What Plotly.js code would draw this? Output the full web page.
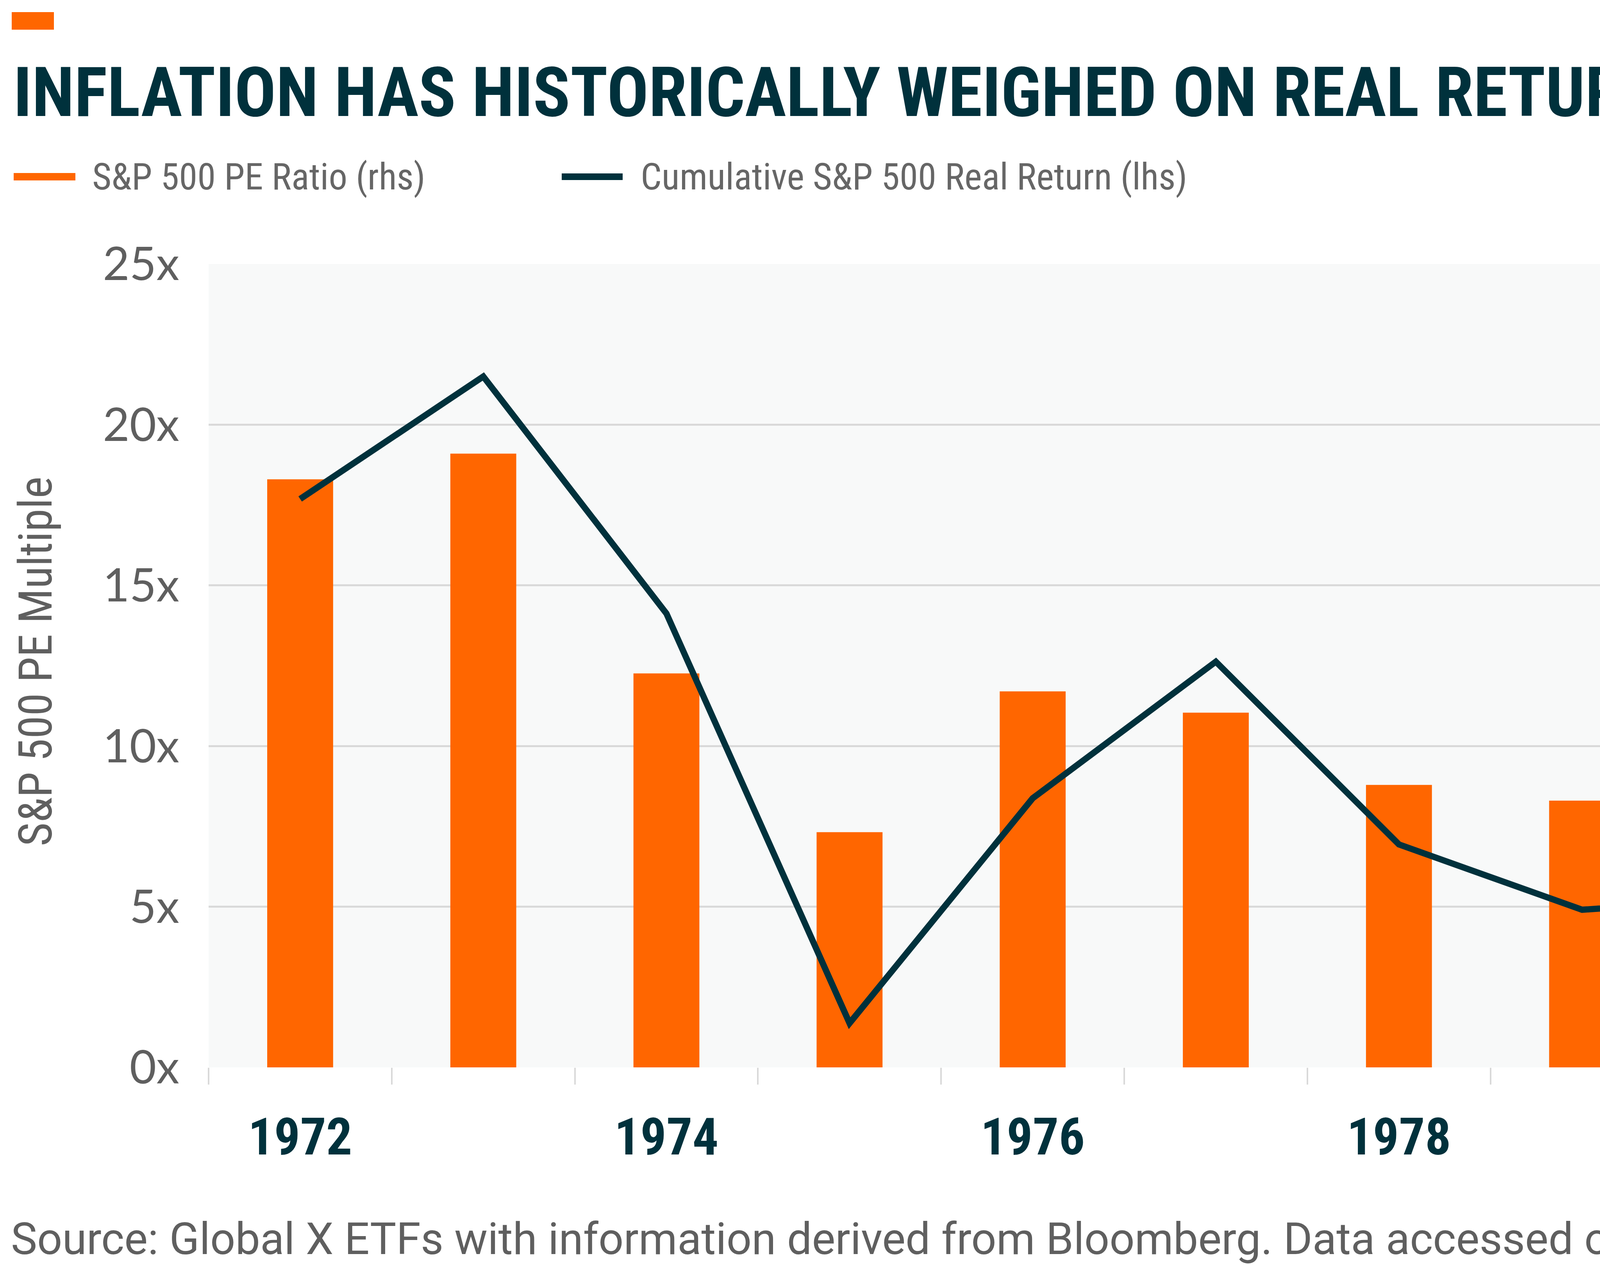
<!DOCTYPE html>
<html>
<head>
<meta charset="utf-8">
<script src="https://cdn.plot.ly/plotly-3.0.1.min.js"></script>
<style>
  html, body { margin: 0; padding: 0; background: #ffffff; }
  #chart { width: 6667px; height: 3239px; }
</style>
</head>
<body>
<div id="chart"></div>
<script>
// values
const years = [1972, 1973, 1974, 1975, 1976, 1977, 1978, 1979, 1980, 1981, 1982];
const peRatio = [18.3, 19.1, 12.26, 7.32, 11.7, 11.04, 8.79, 8.3, 7.45, 9.08, 8.05];
const realReturn = [6.6, 18.8, -4.8, -45.6, -23.2, -9.6, -27.8, -34.3, -33.1, -21.0, -40.9];

const yearLabels = ["1972", "", "1974", "", "1976", "", "1978", "", "1980", "", "1982"];
const peTicks = [0, 5, 10, 15, 20, 25];
const peTickText = ["0x", "5x", "10x", "15x", "20x", "25x"];
const returnTicks = [-50, -40, -30, -20, -10, 0, 10, 20, 30];
const returnTickText = ["-50%", "-40%", "-30%", "-20%", "-10%", "0%", "10%", "20%", "30%"];

const ORANGE = "#FF6600";
const TEAL = "#00313C";
const GREY = "#5F5F5F";
const COND = '"Roboto Condensed", "Open Sans Condensed", sans-serif';
const PLAIN = 'Roboto, "Open Sans", sans-serif';
const TICK = 'Lato, "Open Sans", sans-serif';

// plot box in pixels
const L = 534, R = 5691, T = 676, B = 2733;
const W = R - L, H = B - T;
const px = (x) => (x - L) / W;
const py = (y) => 1 - (y - T) / H;

let bars = {
    x: years.map(String),
    y: peRatio,
    type: "bar",
    marker: { color: ORANGE },
    yaxis: "y",
    hoverinfo: "skip"
};

let line = {
    x: years.map(String),
    y: realReturn,
    type: "scatter",
    mode: "lines",
    line: { color: TEAL, width: 16 },
    yaxis: "y2",
    hoverinfo: "skip"
};

let layout = {
    width: 6667,
    height: 3239,
    margin: { l: L, r: 6667 - R, t: T, b: 3239 - B, pad: 0 },
    paper_bgcolor: "#ffffff",
    plot_bgcolor: "#F8F9F9",
    showlegend: false,
    bargap: 0.64,
    xaxis: {
        type: "category",
        tickmode: "array",
        tickvals: years.map(String),
        ticktext: yearLabels,
        tickson: "boundaries",
        ticks: "outside",
        ticklen: 43,
        tickwidth: 4,
        tickcolor: "#D9D9D9",
        ticklabelstandoff: 90,
        showgrid: false,
        showline: false,
        tickfont: { family: COND, size: 132, color: TEAL, weight: "bold" }
    },
    yaxis: {
        range: [0, 25],
        tickmode: "array",
        tickvals: peTicks,
        ticktext: peTickText,
        ticks: "",
        showline: false,
        showgrid: true,
        gridcolor: "#D9D9D9",
        gridwidth: 5,
        zeroline: false,
        ticklabelstandoff: 74,
        tickfont: { family: TICK, size: 118, color: GREY }
    },
    yaxis2: {
        range: [-50, 30],
        overlaying: "y",
        side: "right",
        anchor: "x",
        tickmode: "array",
        tickvals: returnTicks,
        ticktext: returnTickText,
        ticks: "",
        showgrid: false,
        zeroline: false,
        showline: false,
        ticklabelstandoff: 114,
        tickfont: { family: TICK, size: 116, color: GREY }
    },
    shapes: [
        // orange tag top left
        { type: "rect", xref: "paper", yref: "paper", x0: px(30), x1: px(138), y0: py(76), y1: py(31),
          fillcolor: ORANGE, line: { width: 0 } },
        // legend swatches
        { type: "rect", xref: "paper", yref: "paper", x0: px(35), x1: px(193), y0: py(462), y1: py(443),
          fillcolor: ORANGE, line: { width: 0 } },
        { type: "rect", xref: "paper", yref: "paper", x0: px(1438), x1: px(1594), y0: py(461), y1: py(444),
          fillcolor: TEAL, line: { width: 0 } }
    ],
    annotations: [
        { text: "INFLATION HAS HISTORICALLY WEIGHED ON REAL RETURNS", xref: "paper", yref: "paper",
          x: px(32), y: py(236), xanchor: "left", yanchor: "middle", showarrow: false,
          font: { family: COND, size: 177, color: TEAL, weight: "bold" } },
        { text: "S&P 500 PE Ratio (rhs)", xref: "paper", yref: "paper",
          x: px(234), y: py(452), xanchor: "left", yanchor: "middle", showarrow: false,
          font: { family: COND, size: 95, color: "#666666" } },
        { text: "Cumulative S&P 500 Real Return (lhs)", xref: "paper", yref: "paper",
          x: px(1638), y: py(452), xanchor: "left", yanchor: "middle", showarrow: false,
          font: { family: COND, size: 95, color: "#666666" } },
        { text: "S&P 500 PE Multiple", xref: "paper", yref: "paper",
          x: px(92), y: py(1694), xanchor: "center", yanchor: "middle", textangle: -90, showarrow: false,
          font: { family: COND, size: 118, color: GREY } },
        { text: "Cumulative S&P 500 Real Return", xref: "paper", yref: "paper",
          x: px(6262), y: py(1686), xanchor: "center", yanchor: "middle", textangle: 90, showarrow: false,
          font: { family: COND, size: 124, color: GREY } },
        { text: "Source: Global X ETFs with information derived from Bloomberg. Data accessed on 6/24/26.",
          xref: "paper", yref: "paper", x: px(26), y: py(3172), xanchor: "left", yanchor: "middle",
          showarrow: false, font: { family: PLAIN, size: 113, color: GREY } }
    ]
};

Plotly.newPlot("chart", [bars, line], layout, { staticPlot: true });
</script>
</body>
</html>
